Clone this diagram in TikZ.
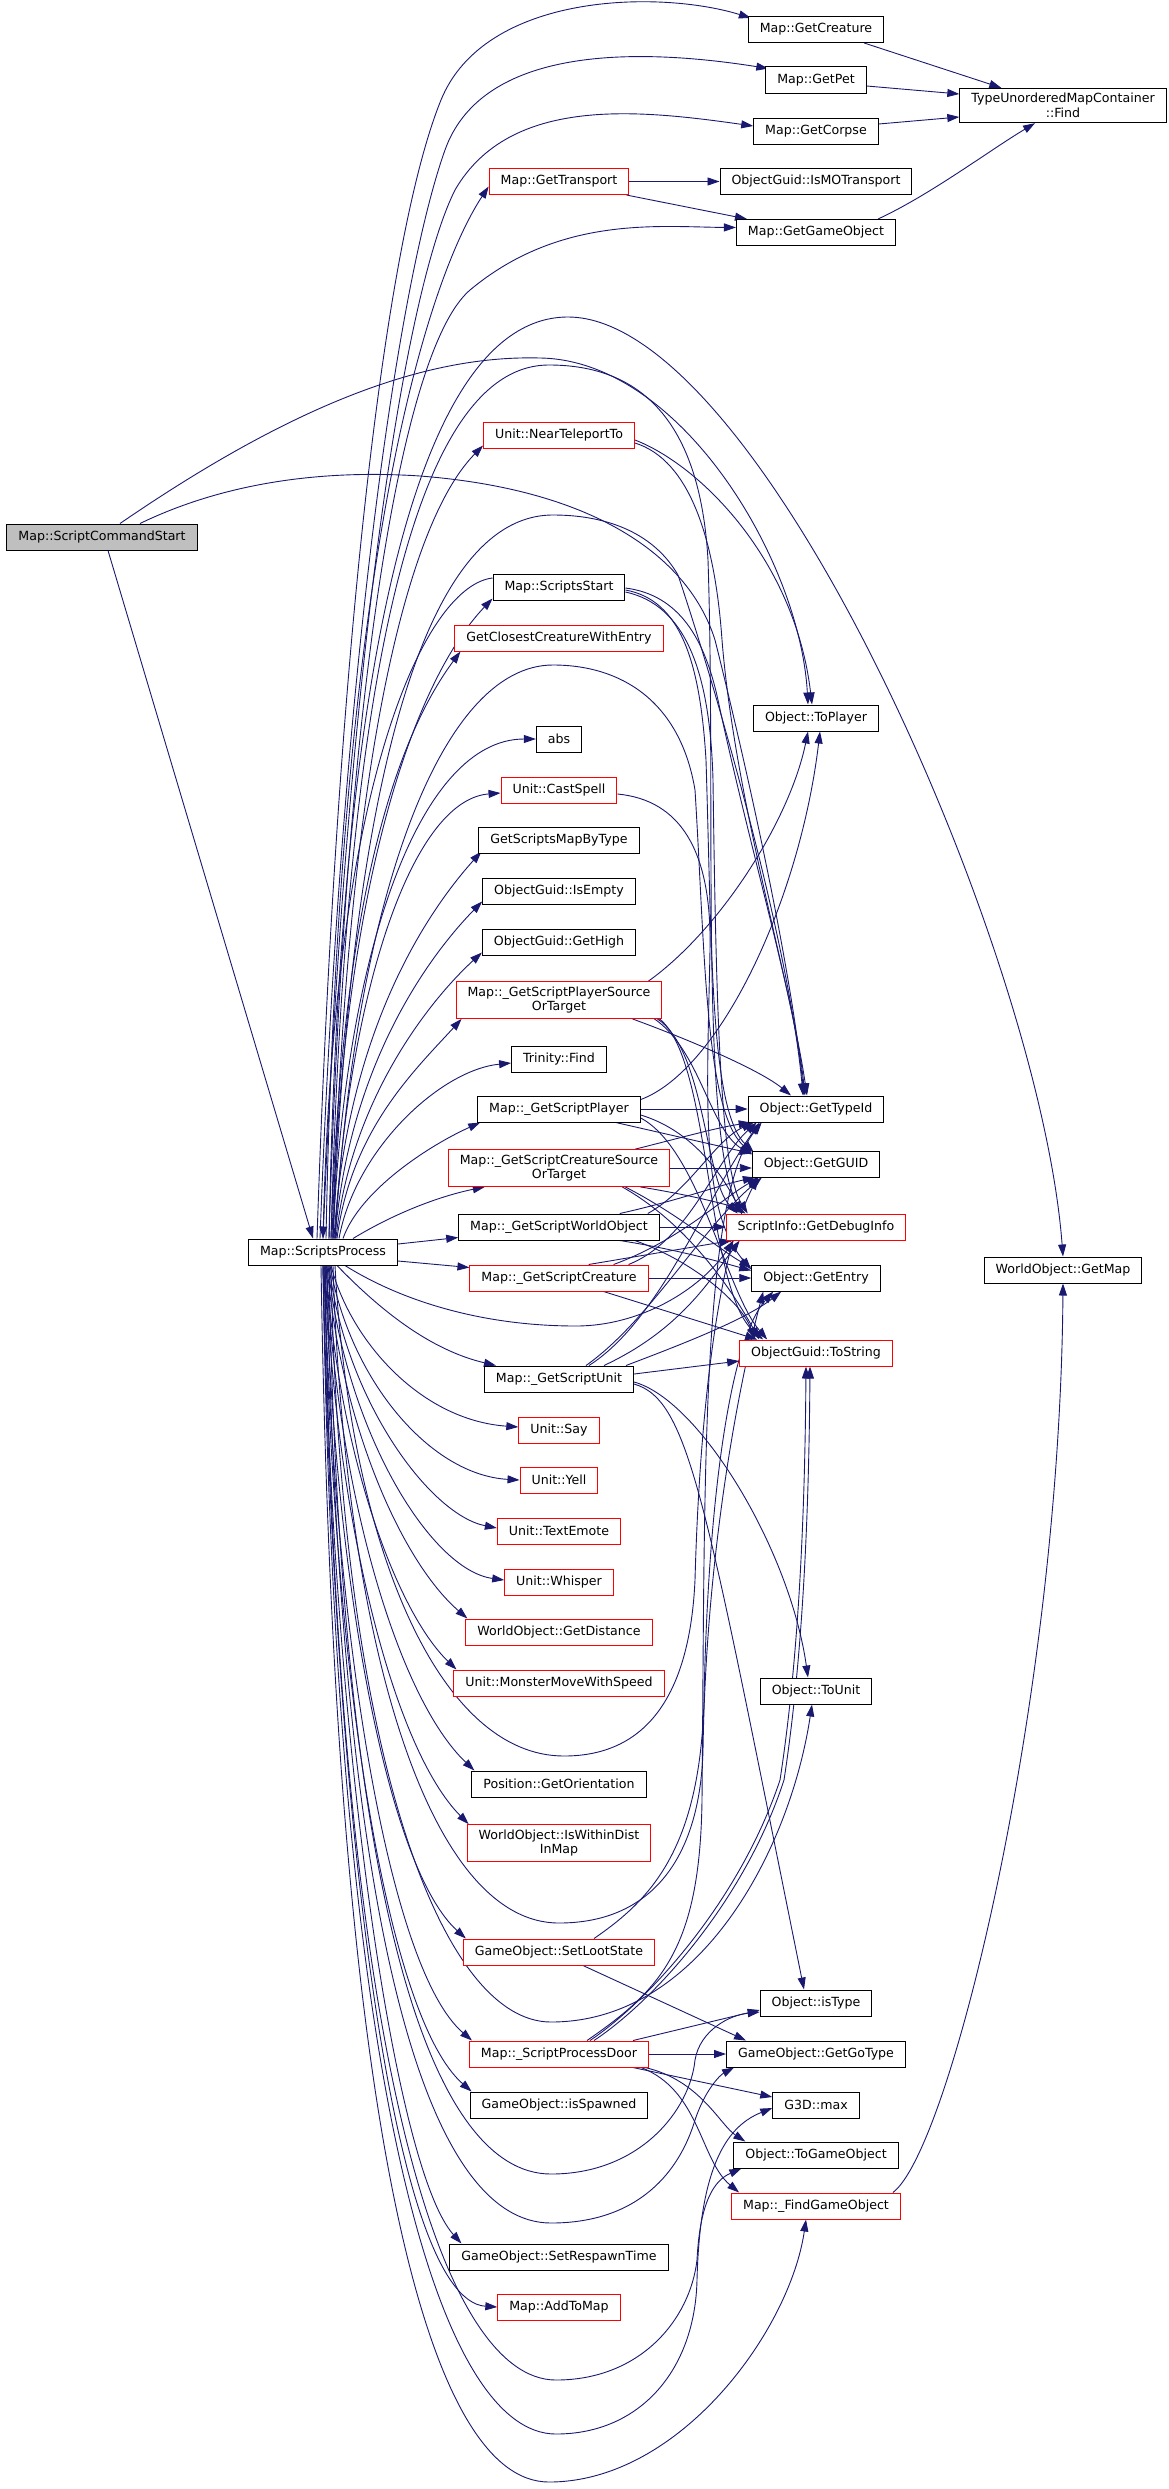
\documentclass[tikz,border=0pt]{standalone}
\usepackage{fontspec}
\setmainfont{DejaVu Sans}
\usetikzlibrary{arrows.meta,backgrounds}
\definecolor{callblue}{HTML}{191970}
\definecolor{nodered}{HTML}{FF0000}
\definecolor{nodegrey}{HTML}{BFBFBF}
\tikzset{
  % ---- boxes ----------------------------------------------------------
  fnode/.style={
    draw=black, line width=1pt, fill=white, minimum height=26pt,
    inner xsep=11.5pt, inner ysep=5pt, align=center,
    font=\fontsize{12.6}{14.6}\selectfont},
  fred/.style={fnode, draw=nodered},
  fcur/.style={fnode, fill=nodegrey},
  % ---- calls ----------------------------------------------------------
  fcall/.style={
    draw=callblue, line width=0.9pt, -{Triangle[length=12pt,width=8pt]}},
}

\begin{document}
\begin{tikzpicture}[x=1pt, y=-1pt]
\useasboundingbox (0,0) rectangle (1169,2489);

% ---- callers ---------------------------------------------------------
\node[fcur] (scs) at (102,537) {Map::ScriptCommandStart};
\node[fnode] (sp) at (323,1252) {Map::ScriptsProcess};

% ---- second column ---------------------------------------------------
\node[fred]  (gtrans)    at (559,181.5) {Map::GetTransport};
\node[fred]  (ntt)       at (559,435)  {Unit::NearTeleportTo};
\node[fnode] (ss)        at (559,587)  {Map::ScriptsStart};
\node[fred]  (gcwe)      at (559,638)  {GetClosestCreatureWithEntry};
\node[fnode] (abs)       at (559,739)  {abs};
\node[fred]  (cspell)    at (559,790)  {Unit::CastSpell};
\node[fnode] (gsmbt)     at (559,840)  {GetScriptsMapByType};
\node[fnode] (isempty)   at (559,891)  {ObjectGuid::IsEmpty};
\node[fnode] (gethigh)   at (559,942)  {ObjectGuid::GetHigh};
\node[fred]  (psot)      at (559,1000) {Map::\_GetScriptPlayerSource\\OrTarget};
\node[fnode] (trfind)    at (559,1059) {Trinity::Find};
\node[fnode] (gsp)       at (559,1109) {Map::\_GetScriptPlayer};
\node[fred]  (csot)      at (559,1168) {Map::\_GetScriptCreatureSource\\OrTarget};
\node[fnode] (gwo)       at (559,1227) {Map::\_GetScriptWorldObject};
\node[fred]  (gsc)       at (559,1278) {Map::\_GetScriptCreature};
\node[fnode] (gsu)       at (559,1379) {Map::\_GetScriptUnit};
\node[fred]  (say)       at (559,1430) {Unit::Say};
\node[fred]  (yell)      at (559,1480) {Unit::Yell};
\node[fred]  (temote)    at (559,1531) {Unit::TextEmote};
\node[fred]  (whisper)   at (559,1582) {Unit::Whisper};
\node[fred]  (gdist)     at (559,1632) {WorldObject::GetDistance};
\node[fred]  (mmws)      at (559,1683) {Unit::MonsterMoveWithSpeed};
\node[fnode] (gorient)   at (559,1784) {Position::GetOrientation};
\node[fred]  (iwdim)     at (559,1843) {WorldObject::IsWithinDist\\InMap};
\node[fred]  (sls)       at (559,1952) {GameObject::SetLootState};
\node[fred]  (spd)       at (559,2054) {Map::\_ScriptProcessDoor};
\node[fnode] (isspawned) at (559,2105) {GameObject::isSpawned};
\node[fnode] (srt)       at (559,2257) {GameObject::SetRespawnTime};
\node[fred]  (addtomap)  at (559,2307) {Map::AddToMap};

% ---- third column ----------------------------------------------------
\node[fnode] (gcr)      at (816,29.5)  {Map::GetCreature};
\node[fnode] (gpet)     at (816,80)    {Map::GetPet};
\node[fnode] (gcorpse)  at (816,131)   {Map::GetCorpse};
\node[fnode] (ismo)     at (816,181.5) {ObjectGuid::IsMOTransport};
\node[fnode] (ggo)      at (816,232.5) {Map::GetGameObject};
\node[fnode] (toplayer) at (816,718)   {Object::ToPlayer};
\node[fnode] (gtid)     at (816,1109)  {Object::GetTypeId};
\node[fnode] (gguid)    at (816,1164)  {Object::GetGUID};
\node[fred]  (gdbg)     at (816,1227)  {ScriptInfo::GetDebugInfo};
\node[fnode] (gentry)   at (816,1278)  {Object::GetEntry};
\node[fred]  (tostr)    at (816,1353)  {ObjectGuid::ToString};
\node[fnode] (tounit)   at (816,1691)  {Object::ToUnit};
\node[fnode] (istype)   at (816,2003)  {Object::isType};
\node[fnode] (ggt)      at (816,2054)  {GameObject::GetGoType};
\node[fnode] (gmax)     at (816,2105)  {G3D::max};
\node[fnode] (togo)     at (816,2155)  {Object::ToGameObject};
\node[fred]  (fgo)      at (816,2206)  {Map::\_FindGameObject};

% ---- fourth column ---------------------------------------------------
\node[fnode] (tfind)  at (1063,105.5) {TypeUnorderedMapContainer\\::Find};
\node[fnode] (getmap) at (1063,1270)  {WorldObject::GetMap};

\begin{scope}[on background layer]
% ---- from the command start -----------------------------------------
\draw[fcall] ([xshift=6pt]scs.south) -- ([xshift=-10pt]sp.north);
\draw[fcall] ([xshift=18pt]scs.north) .. controls (300,400) and (430,355) .. (540,358)
  .. controls (680,360) and (800,560) .. ([xshift=-8pt]toplayer.north);
\draw[fcall] ([xshift=38pt]scs.north) .. controls (230,480) and (330,470) .. (420,476)
  .. controls (600,490) and (690,560) .. (715,640)
  .. controls (745,760) and (790,960) .. ([xshift=-12pt]gtid.north);

% ---- top of the map lookups -----------------------------------------
\draw[fcall] ([xshift=-6pt]sp.north) .. controls (335,700) and (380,250) .. (441,100)
  .. controls (485,-8) and (660,-10) .. ([xshift=3pt,yshift=-2pt]gcr.north west);
\draw[fcall] ([xshift=-3pt]sp.north) .. controls (340,700) and (395,290) .. (445,150)
  .. controls (480,52) and (620,45) .. ([xshift=3pt,yshift=-2pt]gpet.north west);
\draw[fcall] (sp.north) .. controls (345,700) and (400,300) .. (455,190)
  .. controls (510,95) and (640,110) .. ([yshift=5pt]gcorpse.west);
\draw[fcall] ([xshift=3pt]sp.north) .. controls (340,500) and (440,260) .. ([yshift=-5pt]gtrans.west);
\draw[fcall] ([xshift=6pt]sp.north) .. controls (345,700) and (400,350) .. (470,290)
  .. controls (560,215) and (660,227) .. ([yshift=5pt]ggo.west);
\draw[fcall] (gtrans.east) -- (ismo.west);
\draw[fcall] ([xshift=-3pt]gtrans.south east) -- ([xshift=11pt]ggo.north west);
\draw[fcall] ([xshift=-20pt]gcr.south east) -- ([xshift=42pt]tfind.north west);
\draw[fcall] ([yshift=-6pt]gpet.east) -- ([yshift=11.5pt]tfind.west);
\draw[fcall] ([yshift=7pt]gcorpse.east) -- ([yshift=-11.5pt]tfind.west);
\draw[fcall] ([xshift=-18pt]ggo.north east) .. controls (930,195) and (990,150) .. ([xshift=-28pt]tfind.south);

% ---- long arcs over the top -------------------------------------------
\draw[fcall] ([xshift=6pt]sp.north) .. controls (340,650) and (420,317) .. (568,317)
  .. controls (760,317) and (1040,950) .. (getmap.north);
\draw[fcall] ([xshift=8pt]sp.north) .. controls (345,700) and (410,365) .. (549,365)
  .. controls (640,365) and (700,420) .. (708,560)
  .. controls (716,800) and (700,1130) .. ([xshift=16pt]gdbg.north west);
\draw[fcall] ([xshift=10pt]sp.north) .. controls (350,800) and (420,515) .. (553,515)
  .. controls (610,515) and (655,535) .. (678,575)
  .. controls (720,700) and (790,950) .. ([xshift=-13pt]gtid.north);
\draw[fcall] ([xshift=12pt]sp.north) .. controls (355,900) and (440,665) .. (553,665)
  .. controls (620,665) and (680,700) .. (695,790)
  .. controls (705,950) and (705,1110) .. ([yshift=-3pt]gguid.north west);

% ---- second column, above ---------------------------------------------
\draw[fcall] ([xshift=10pt]sp.north) .. controls (345,800) and (400,530) .. ([yshift=3pt]ntt.south west);
\draw[fcall] ([xshift=9pt]sp.north) .. controls (343,880) and (415,680) .. ([yshift=2pt]ss.south west);
\draw[fcall] ([xshift=8pt]sp.north) .. controls (342,900) and (395,740) .. ([xshift=6pt]gcwe.south west);
\draw[fcall] ([xshift=10pt]sp.north) .. controls (345,950) and (420,739) .. (abs.west);
\draw[fcall] ([xshift=12pt]sp.north) .. controls (347,1000) and (410,800) .. ([yshift=-3pt]cspell.west);
\draw[fcall] ([xshift=11pt]sp.north) .. controls (346,1040) and (420,920) .. ([xshift=3pt,yshift=2pt]gsmbt.south west);
\draw[fcall] ([xshift=12pt]sp.north) .. controls (348,1070) and (425,960) .. ([yshift=3pt]isempty.south west);
\draw[fcall] ([xshift=13pt]sp.north) .. controls (350,1100) and (430,1000) .. ([yshift=3pt]gethigh.south west);
\draw[fcall] ([xshift=14pt]sp.north) .. controls (351,1130) and (415,1070) .. ([xshift=6pt]psot.south west);
\draw[fcall] ([xshift=16pt]sp.north) .. controls (355,1150) and (440,1070) .. ([yshift=-4pt]trfind.west);
\draw[fcall] ([xshift=20pt]sp.north) .. controls (360,1190) and (430,1145) .. ([xshift=3pt]gsp.south west);
\draw[fcall] ([xshift=30pt]sp.north) .. controls (400,1210) and (445,1195) .. ([xshift=37pt]csot.south west);
\draw[fcall] ([yshift=8pt]sp.east) -- ([yshift=3pt]gwo.south west);
\draw[fcall] ([yshift=-9pt]sp.east) -- ([yshift=-3pt]gsc.north west);

% ---- second column, below ---------------------------------------------
\draw[fcall] ([xshift=14pt]sp.south) .. controls (380,1310) and (430,1350) .. ([xshift=12pt]gsu.north west);
\draw[fcall] ([xshift=8pt]sp.south) .. controls (350,1340) and (420,1420) .. ([yshift=3pt]say.west);
\draw[fcall] ([xshift=7pt]sp.south) .. controls (350,1380) and (430,1475) .. (yell.west);
\draw[fcall] ([xshift=6pt]sp.south) .. controls (345,1400) and (430,1515) .. ([yshift=3pt]temote.west);
\draw[fcall] ([xshift=5pt]sp.south) .. controls (345,1430) and (430,1570) .. ([yshift=2pt]whisper.west);
\draw[fcall] ([xshift=4pt]sp.south) .. controls (340,1420) and (400,1560) .. ([xshift=2pt]gdist.north west);
\draw[fcall] ([xshift=3pt]sp.south) .. controls (338,1450) and (395,1610) .. ([xshift=3pt]mmws.north west);
\draw[fcall] ([xshift=3pt]sp.south) .. controls (338,1500) and (400,1700) .. ([xshift=3pt]gorient.north west);
\draw[fcall] ([xshift=2pt]sp.south) .. controls (337,1530) and (395,1750) .. ([xshift=2pt]iwdim.north west);
\draw[fcall] ([xshift=2pt]sp.south) .. controls (336,1600) and (390,1870) .. ([xshift=3pt]sls.north west);
\draw[fcall] ([xshift=1pt]sp.south) .. controls (335,1650) and (390,1970) .. ([xshift=3pt]spd.north west);
\draw[fcall] ([xshift=1pt]sp.south) .. controls (334,1700) and (390,2020) .. ([xshift=2pt]isspawned.north west);
\draw[fcall] (sp.south) .. controls (333,1750) and (395,2170) .. ([xshift=12pt]srt.north west);
\draw[fcall] (sp.south) .. controls (333,1800) and (390,2300) .. (addtomap.west);

% ---- long arcs underneath ---------------------------------------------
\draw[fcall] ([xshift=22pt]sp.south) .. controls (400,1300) and (480,1326) .. (576,1326)
  .. controls (640,1326) and (700,1290) .. ([xshift=8pt]gdbg.south west);
\draw[fcall] ([xshift=12pt]sp.south) .. controls (350,1550) and (440,1756) .. (564,1756)
  .. controls (650,1756) and (690,1690) .. (695,1580)
  .. controls (700,1400) and (720,1250) .. ([xshift=6pt]gguid.south west);
\draw[fcall] ([xshift=10pt]sp.south) .. controls (345,1650) and (430,1923) .. (559,1923)
  .. controls (650,1923) and (700,1860) .. (703,1750)
  .. controls (706,1550) and (740,1380) .. ([xshift=12pt]gentry.south west);
\draw[fcall] ([xshift=8pt]sp.south) .. controls (340,1750) and (440,2022) .. (551,2022)
  .. controls (700,2022) and (790,1850) .. ([xshift=-4pt]tounit.south);
\draw[fcall] ([xshift=6pt]sp.south) .. controls (340,1900) and (430,2174) .. (551,2174)
  .. controls (640,2174) and (690,2110) .. (695,2060)
  .. controls (700,2030) and (730,2015) .. ([yshift=-9pt]istype.west);
\draw[fcall] ([xshift=4pt]sp.south) .. controls (340,1950) and (430,2223) .. (551,2223)
  .. controls (640,2223) and (680,2170) .. (695,2120)
  .. controls (705,2090) and (720,2075) .. ([xshift=8pt]ggt.south west);
\draw[fcall] ([xshift=2pt]sp.south) .. controls (335,2050) and (440,2380) .. (556,2380)
  .. controls (640,2380) and (690,2320) .. (697,2260)
  .. controls (700,2200) and (715,2180) .. ([xshift=8pt]togo.south west);
\draw[fcall] (sp.south) .. controls (335,2100) and (440,2434) .. (556,2434)
  .. controls (640,2434) and (695,2370) .. (697,2280)
  .. controls (700,2160) and (730,2125) .. ([yshift=-3pt]gmax.west);
\draw[fcall] ([xshift=-2pt]sp.south) .. controls (335,2150) and (430,2482) .. (549,2482)
  .. controls (680,2482) and (790,2330) .. ([xshift=-10pt]fgo.south);

% ---- teleport, start, cast --------------------------------------------
\draw[fcall] ([yshift=-5pt]ntt.east) .. controls (700,465) and (795,560) .. ([xshift=-4pt]toplayer.north);
\draw[fcall] ([yshift=-8pt]ntt.east) .. controls (690,460) and (715,540) .. (722,640)
  .. controls (735,800) and (790,980) .. ([xshift=-9pt]gtid.north);
\draw[fcall] ([yshift=9pt]ss.west) .. controls (430,585) and (335,760) .. (sp.north);
\draw[fcall] ([yshift=-1pt]ss.east) .. controls (680,595) and (705,640) .. (718,700)
  .. controls (750,850) and (795,1000) .. ([xshift=-11pt]gtid.north);
\draw[fcall] ([yshift=-3pt]ss.east) .. controls (680,600) and (700,660) .. (706,760)
  .. controls (712,950) and (710,1110) .. ([xshift=2pt,yshift=-2pt]gguid.north west);
\draw[fcall] ([yshift=-5pt]ss.east) .. controls (685,605) and (710,670) .. (713,780)
  .. controls (716,1000) and (720,1170) .. ([xshift=22pt]gdbg.north west);
\draw[fcall] ([yshift=-4pt]cspell.east) .. controls (680,800) and (712,850) .. (710,950)
  .. controls (707,1100) and (700,1210) .. ([yshift=-5pt]gentry.north west);

% ---- script targets ---------------------------------------------------
\draw[fcall] ([xshift=-14pt]psot.north east) .. controls (720,930) and (790,820) .. ([xshift=-8pt]toplayer.south);
\draw[fcall] ([xshift=-30pt]psot.south east) .. controls (690,1040) and (760,1070) .. ([xshift=-25pt]gtid.north);
\draw[fcall] ([xshift=-8pt]psot.south east) .. controls (700,1050) and (710,1130) .. ([yshift=-4pt]gguid.north west);
\draw[fcall] ([xshift=-5pt]psot.south east) .. controls (705,1050) and (705,1180) .. ([xshift=12pt]gdbg.north west);
\draw[fcall] ([xshift=-3pt]psot.south east) .. controls (712,1060) and (705,1290) .. ([xshift=24pt]tostr.north west);

\draw[fcall] ([yshift=-4pt]gsp.north east) .. controls (720,1070) and (800,900) .. ([xshift=4pt]toplayer.south);
\draw[fcall] (gsp.east) -- (gtid.west);
\draw[fcall] ([xshift=-25pt]gsp.south east) -- ([yshift=-3pt]gguid.north west);
\draw[fcall] ([yshift=-6pt]gsp.east) .. controls (690,1130) and (720,1170) .. ([xshift=16pt]gdbg.north west);
\draw[fcall] ([yshift=-9pt]gsp.east) .. controls (700,1150) and (725,1290) .. ([xshift=28pt]tostr.north west);

\draw[fcall] ([xshift=-35pt]csot.north east) .. controls (680,1138) and (715,1128) .. ([xshift=3pt]gtid.south west);
\draw[fcall] (csot.east) -- ([yshift=-4pt]gguid.west);
\draw[fcall] ([xshift=-30pt]csot.south east) .. controls (690,1195) and (730,1205) .. ([xshift=20pt]gdbg.north west);
\draw[fcall] ([xshift=-45pt]csot.south east) .. controls (680,1215) and (720,1250) .. ([yshift=-3pt]gentry.north west);
\draw[fcall] ([xshift=-48pt]csot.south east) .. controls (690,1225) and (735,1295) .. ([xshift=20pt]tostr.north west);

\draw[fcall] ([xshift=-12pt]gwo.north east) .. controls (690,1190) and (715,1140) .. ([xshift=6pt]gtid.south west);
\draw[fcall] ([xshift=-40pt]gwo.north east) .. controls (680,1200) and (720,1185) .. ([xshift=3pt]gguid.south west);
\draw[fcall] (gwo.east) -- (gdbg.west);
\draw[fcall] ([xshift=-40pt]gwo.south east) .. controls (680,1250) and (720,1262) .. ([yshift=-6pt]gentry.north west);
\draw[fcall] ([xshift=-25pt]gwo.south east) .. controls (690,1260) and (740,1300) .. ([xshift=16pt]tostr.north west);

\draw[fcall] ([xshift=-20pt]gsc.north east) .. controls (690,1240) and (715,1160) .. ([xshift=9pt]gtid.south west);
\draw[fcall] ([xshift=-35pt]gsc.north east) .. controls (680,1240) and (720,1200) .. ([xshift=7pt]gguid.south west);
\draw[fcall] ([xshift=-60pt]gsc.north east) -- ([xshift=6pt]gdbg.south west);
\draw[fcall] (gsc.east) -- (gentry.west);
\draw[fcall] ([xshift=-45pt]gsc.south east) -- ([xshift=18pt]tostr.north west);

\draw[fcall] ([xshift=30pt]gsu.north) .. controls (660,1320) and (705,1200) .. ([xshift=12pt]gtid.south west);
\draw[fcall] ([xshift=27pt]gsu.north) .. controls (650,1320) and (700,1230) .. ([xshift=10pt]gguid.south west);
\draw[fcall] ([xshift=45pt]gsu.north) .. controls (680,1330) and (710,1280) .. ([xshift=14pt]gdbg.south west);
\draw[fcall] ([xshift=-8pt]gsu.north east) .. controls (680,1345) and (745,1320) .. ([xshift=30pt]gentry.south west);
\draw[fcall] ([yshift=5pt]gsu.east) -- ([yshift=-8pt]tostr.west);
\draw[fcall] ([yshift=-3pt]gsu.east) .. controls (700,1400) and (790,1550) .. ([xshift=-8pt]tounit.north);
\draw[fcall] ([yshift=-5pt]gsu.east) .. controls (690,1400) and (705,1500) .. ([xshift=-12pt]istype.north);

% ---- doors and loot ---------------------------------------------------
\draw[fcall] ([xshift=24pt]sls.south) -- ([xshift=20pt]ggt.north west);
\draw[fcall] ([xshift=35pt]sls.north) .. controls (650,1900) and (700,1850) .. (704,1700)
  .. controls (708,1500) and (730,1340) .. ([xshift=22pt]gentry.south west);
\draw[fcall] ([xshift=31pt]spd.north) .. controls (650,2000) and (740,1900) .. (780,1780)
  .. controls (800,1650) and (805,1500) .. ([xshift=-10pt]tostr.south);
\draw[fcall] ([xshift=35pt]spd.north) .. controls (655,2000) and (745,1900) .. (784,1780)
  .. controls (804,1650) and (809,1500) .. ([xshift=-6pt]tostr.south);
\draw[fcall] ([xshift=28pt]spd.north) .. controls (660,1990) and (700,1950) .. (702,1800)
  .. controls (705,1500) and (700,1200) .. ([xshift=14pt]gtid.south west);
\draw[fcall] ([xshift=-16pt]spd.north east) -- ([yshift=-7pt]istype.west);
\draw[fcall] (spd.east) -- (ggt.west);
\draw[fcall] ([xshift=-16pt]spd.south east) -- ([yshift=8pt]gmax.west);
\draw[fcall] ([xshift=-4pt]spd.south east) .. controls (700,2080) and (720,2125) .. ([xshift=12pt]togo.north west);
\draw[fcall] ([xshift=-8pt]spd.south east) .. controls (700,2090) and (700,2160) .. ([xshift=8pt]fgo.north west);
\draw[fcall] ([xshift=-8pt]fgo.north east) .. controls (950,2150) and (1060,1700) .. (getmap.south);
\end{scope}

\end{tikzpicture}
\end{document}
